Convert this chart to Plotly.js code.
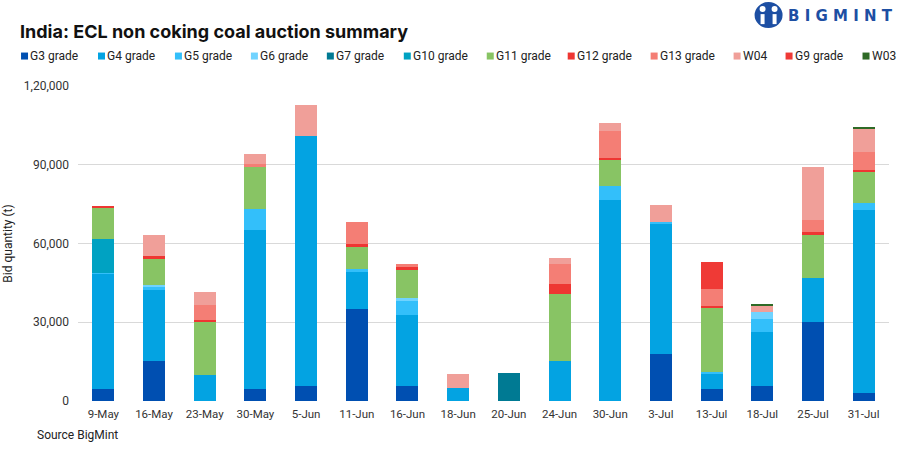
<!DOCTYPE html>
<html>
<head>
<meta charset="utf-8">
<script src="https://cdn.plot.ly/plotly-3.0.1.min.js"></script>
<style>
  html, body { margin: 0; padding: 0; background: #fff; }
  #chart { width: 907px; height: 453px; }
</style>
</head>
<body>
<div id="chart"></div>
<script>
/* ECL non coking coal auction summary: stacked bid quantity by grade */

const dates = ['9-May','16-May','23-May','30-May','5-Jun','11-Jun','16-Jun','18-Jun',
               '20-Jun','24-Jun','30-Jun','3-Jul','13-Jul','18-Jul','25-Jul','31-Jul'];

// bid quantity in tonnes, bottom of the stack first
const g3  = [4400, 15400, 0, 4400, 5900, 34900, 5900, 0, 0, 0, 0, 17800, 4700, 5800, 30000, 2900];
const g4  = [44000, 27000, 10000, 60900, 95000, 14200, 27000, 4800, 0, 15100, 76400, 49800, 5700, 20500, 17000, 69800];
const g5  = [400, 1000, 0, 8000, 0, 1000, 5100, 0, 0, 0, 5500, 500, 600, 5000, 0, 2700];
const g6  = [0, 900, 0, 0, 0, 0, 1100, 0, 0, 0, 0, 0, 0, 2700, 0, 0];
const g7  = [0, 0, 0, 0, 0, 0, 0, 0, 10800, 0, 0, 0, 0, 0, 0, 0];
const g10 = [13100, 0, 0, 0, 0, 0, 0, 0, 0, 0, 0, 0, 0, 0, 0, 0];
const g11 = [11900, 9800, 20400, 15900, 0, 8900, 10800, 0, 0, 25700, 10000, 0, 24700, 0, 16100, 12000];
const g12 = [600, 1000, 600, 0, 0, 650, 1000, 0, 0, 3700, 600, 0, 600, 0, 1400, 600];
const g13 = [0, 0, 5700, 1200, 0, 8600, 1300, 0, 0, 7600, 10300, 0, 6200, 0, 4300, 6800];
const w04 = [0, 8000, 5000, 3700, 12000, 0, 0, 5500, 0, 2400, 3200, 6600, 0, 2500, 20400, 9100];
const g9  = [0, 0, 0, 0, 0, 0, 0, 0, 0, 0, 0, 0, 10500, 0, 0, 0];
const w03 = [0, 0, 0, 0, 0, 0, 0, 0, 0, 0, 0, 0, 0, 300, 0, 400];

const yTickVals = [0, 30000, 60000, 90000, 120000];
const yTickText = ['0', '30,000', '60,000', '90,000', '1,20,000'];

const series = [
  { name: 'G3 grade',  y: g3,  color: '#004FB1' },
  { name: 'G4 grade',  y: g4,  color: '#03A3E2' },
  { name: 'G5 grade',  y: g5,  color: '#33BFFA' },
  { name: 'G6 grade',  y: g6,  color: '#70D3FF' },
  { name: 'G7 grade',  y: g7,  color: '#007A93' },
  { name: 'G10 grade', y: g10, color: '#00A2C2' },
  { name: 'G11 grade', y: g11, color: '#88C464' },
  { name: 'G12 grade', y: g12, color: '#EE3632' },
  { name: 'G13 grade', y: g13, color: '#F47E75' },
  { name: 'W04',       y: w04, color: '#F09F99' },
  { name: 'G9 grade',  y: g9,  color: '#EF3A36' },
  { name: 'W03',       y: w03, color: '#2E6A26' },
];

// plot box in pixels (matches margins below)
const PL = 78, PR = 889.5, PT = 86, PB = 401.5;
const px2x = p => (p - PL) / (PR - PL);
const py2y = p => (PB - p) / (PB - PT);

// left edge of each legend key, pixels from the left of the image
const legendLeft = [21, 98, 175, 251, 327, 404, 487, 568, 651, 734, 786, 863];
const LEGEND_Y = 56;

const traces = series.map(s => ({
  type: 'bar',
  name: s.name,
  x: dates,
  y: s.y,
  marker: { color: s.color, line: { width: 0 } },
  hoverinfo: 'x+y+name',
  showlegend: false,
}));

const FONT = 'Roboto, "Liberation Sans", sans-serif';

const annotations = [
  {
    text: 'Source BigMint',
    xref: 'paper', yref: 'paper',
    x: px2x(35), y: py2y(436),
    xanchor: 'left', yanchor: 'middle',
    showarrow: false,
    font: { size: 12, color: '#222' },
  },
  {
    text: '<b>B I G M I N T</b>',
    xref: 'paper', yref: 'paper',
    x: px2x(896), y: py2y(16),
    xanchor: 'right', yanchor: 'middle',
    showarrow: false,
    font: { family: '"DejaVu Sans", sans-serif', size: 15, color: '#1D4FA3' },
  },
];

const shapes = [];
const pxShape = (type, cx, cy, x0, x1, y0, y1, color) => ({
  type, xref: 'paper', yref: 'paper', xsizemode: 'pixel', ysizemode: 'pixel',
  xanchor: px2x(cx), yanchor: py2y(cy), x0, x1, y0, y1,
  fillcolor: color, line: { width: 0 },
});

series.forEach((s, i) => {
  shapes.push(pxShape('rect', legendLeft[i], LEGEND_Y, 0, 7, -3.5, 3.5, s.color));
  annotations.push({
    text: s.name,
    xref: 'paper', yref: 'paper',
    x: px2x(legendLeft[i] + 7), y: py2y(LEGEND_Y),
    xanchor: 'left', yanchor: 'middle',
    showarrow: false,
    font: { size: 12, color: '#222' },
  });
});

// logo mark: blue disc with two white figures
shapes.push(pxShape('circle', 769, 15, -14, 14, -13, 13, '#1D4FA3'));
shapes.push(pxShape('circle', 769, 15, -9, -3, 3, 9, '#fff'));
shapes.push(pxShape('circle', 769, 15, 3, 9, 3, 9, '#fff'));
shapes.push(pxShape('rect', 769, 15, -8, -4, -9, 1, '#fff'));
shapes.push(pxShape('rect', 769, 15, 4, 8, -9, 1, '#fff'));

const layout = {
  width: 907,
  height: 453,
  barmode: 'stack',
  bargap: 0.566,
  paper_bgcolor: '#fff',
  plot_bgcolor: '#fff',
  font: { family: FONT, size: 12, color: '#222' },
  margin: { l: PL, r: 907 - PR, t: PT, b: 453 - PB },
  title: {
    text: '<b>India: ECL non coking coal auction summary</b>',
    font: { family: 'Inter, Roboto, sans-serif', size: 18, color: '#111' },
    x: 20 / 907, xanchor: 'left', xref: 'container',
    y: 1 - 32 / 453, yanchor: 'middle', yref: 'container',
  },
  showlegend: false,
  xaxis: {
    type: 'category',
    showgrid: false,
    zeroline: false,
    showline: false,
    ticks: '',
    tickfont: { size: 11.5, color: '#333' },
    ticklabelstandoff: 4,
  },
  yaxis: {
    range: [0, 120000],
    tickvals: yTickVals,
    ticktext: yTickText,
    showgrid: true,
    gridcolor: '#d9d9d9',
    gridwidth: 1,
    zeroline: false,
    showline: false,
    ticks: '',
    tickfont: { size: 12, color: '#333' },
    ticklabelstandoff: 8,
    title: { text: 'Bid quantity (t)', font: { size: 12, color: '#222' }, standoff: 8 },
  },
  annotations,
  shapes,
};

Plotly.newPlot('chart', traces, layout, { displayModeBar: false, responsive: false });
</script>
</body>
</html>
